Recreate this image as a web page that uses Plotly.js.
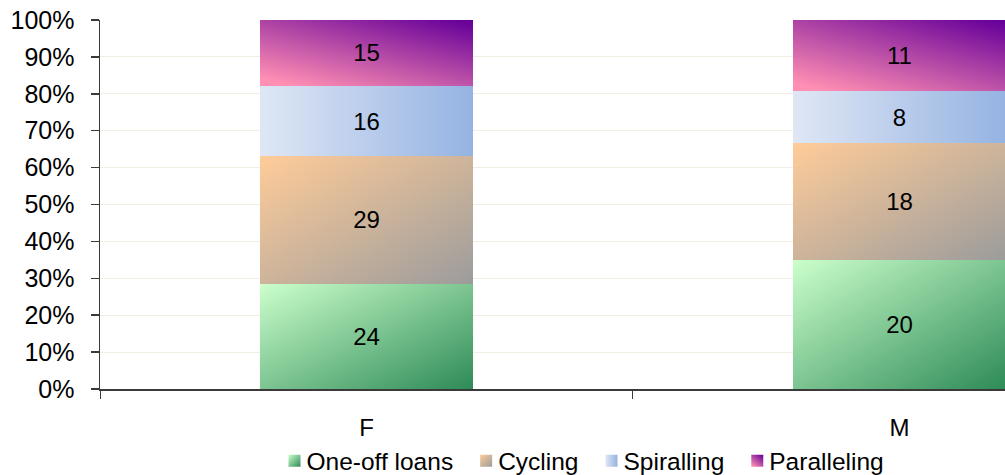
<!DOCTYPE html>
<html>
<head>
<meta charset="utf-8">
<script src="https://cdn.plot.ly/plotly-3.0.1.min.js"></script>
<style>
html,body{margin:0;padding:0;overflow:hidden;background:#fff;}
#chart{width:1005px;height:475px;}
</style>
</head>
<body>
<div id="chart"></div>
<script>
// Data
const categories = ["F", "M"];
const seriesNames = ["One-off loans", "Cycling", "Spiralling", "Paralleling"];
const oneOff = [24, 20];
const cycling = [29, 18];
const spiralling = [16, 8];
const paralleling = [15, 11];
const yTicks = [0, 10, 20, 30, 40, 50, 60, 70, 80, 90, 100];

const seriesValues = [oneOff, cycling, spiralling, paralleling];
const solid = ["#7fc99a", "#d8b48e", "#bccde9", "#b0458f"];

// gradient definitions (style only)
const gradients = [
  {id: "g0", x1: 0, y1: 0, x2: 1, y2: 1, stops: [["0%", "#ccffcc"], ["100%", "#2e8b57"]]},
  {id: "g1", x1: 0, y1: 0, x2: 1, y2: 1, stops: [["0%", "#ffcc99"], ["100%", "#9c9c9c"]]},
  {id: "g2", x1: 0, y1: 0, x2: 1, y2: 0, stops: [["0%", "#dfe7f5"], ["100%", "#95b3e2"]]},
  {id: "g3", x1: 0.15, y1: 1, x2: 0.95, y2: 0, stops: [["0%", "#ff8fb3"], ["100%", "#660099"]]}
];

const font = "Liberation Sans, Arial, sans-serif";

const traces = seriesNames.map((name, i) => ({
  type: "bar",
  name: name,
  x: categories,
  y: seriesValues[i],
  text: seriesValues[i].map(String),
  textposition: "inside",
  insidetextanchor: "middle",
  textangle: 0,
  constraintext: "none",
  insidetextfont: {family: font, size: 24, color: "#000"},
  marker: {color: solid[i], line: {width: 0}},
  width: 0.4,
  hoverinfo: "none"
}));

const layout = {
  width: 1005,
  height: 475,
  margin: {l: 100, r: 0, t: 20, b: 86},
  barmode: "stack",
  barnorm: "percent",
  paper_bgcolor: "#fff",
  plot_bgcolor: "#fff",
  font: {family: font, color: "#000", size: 24},
  showlegend: true,
  legend: {
    orientation: "h",
    traceorder: "normal",
    xref: "paper",
    x: 0.537,
    xanchor: "center",
    yref: "container",
    y: 0.03,
    yanchor: "middle",
    font: {family: font, size: 24.5, color: "#000"},
    itemwidth: 30,
    tracegroupgap: 0
  },
  xaxis: {
    type: "category",
    range: [-0.5, 1.198],
    showline: true,
    linecolor: "#3a3a3a",
    linewidth: 1.5,
    ticks: "outside",
    tickson: "boundaries",
    ticklen: 8,
    tickcolor: "#3a3a3a",
    tickwidth: 1,
    ticklabelstandoff: 17,
    showgrid: false,
    zeroline: false,
    fixedrange: true,
    tickfont: {family: font, size: 24, color: "#000"}
  },
  yaxis: {
    range: [0, 100],
    tickvals: yTicks,
    ticktext: yTicks.map(v => v + "%"),
    showline: true,
    linecolor: "#3a3a3a",
    linewidth: 1.5,
    ticks: "outside",
    ticklen: 8,
    tickcolor: "#3a3a3a",
    tickwidth: 1.5,
    ticklabelstandoff: 11,
    showgrid: true,
    gridcolor: "#f2eee4",
    gridwidth: 1,
    zeroline: false,
    fixedrange: true,
    tickfont: {family: font, size: 25, color: "#000"}
  }
};

Plotly.newPlot("chart", traces, layout, {displayModeBar: false, staticPlot: true}).then(gd => {
  const NS = "http://www.w3.org/2000/svg";
  const svg = gd.querySelector("svg.main-svg");
  let defs = svg.querySelector("defs");
  if (!defs) { defs = document.createElementNS(NS, "defs"); svg.insertBefore(defs, svg.firstChild); }
  gradients.forEach(g => {
    const lg = document.createElementNS(NS, "linearGradient");
    lg.setAttribute("id", g.id);
    lg.setAttribute("x1", g.x1); lg.setAttribute("y1", g.y1);
    lg.setAttribute("x2", g.x2); lg.setAttribute("y2", g.y2);
    g.stops.forEach(s => {
      const st = document.createElementNS(NS, "stop");
      st.setAttribute("offset", s[0]);
      st.setAttribute("stop-color", s[1]);
      lg.appendChild(st);
    });
    defs.appendChild(lg);
  });
  gd.querySelectorAll(".barlayer .trace").forEach(tr => {
    const d = tr.__data__;
    const idx = d && d[0] && d[0].trace ? d[0].trace.index : null;
    if (idx === null) return;
    tr.querySelectorAll("path").forEach(p => { p.style.fill = "url(#g" + idx + ")"; });
  });
  gd.querySelectorAll(".legend .traces").forEach(tr => {
    const d = tr.__data__;
    const idx = d && d[0] && d[0].trace ? d[0].trace.index : null;
    if (idx === null) return;
    tr.querySelectorAll(".legendpoints path").forEach(p => { p.style.fill = "url(#g" + idx + ")"; });
    // tighten gap between symbol and label
    tr.querySelectorAll("text.legendtext").forEach(t => {
      const x = parseFloat(t.getAttribute("x")) || 40;
      t.setAttribute("x", x - 8);
    });
  });
});
</script>
</body>
</html>
